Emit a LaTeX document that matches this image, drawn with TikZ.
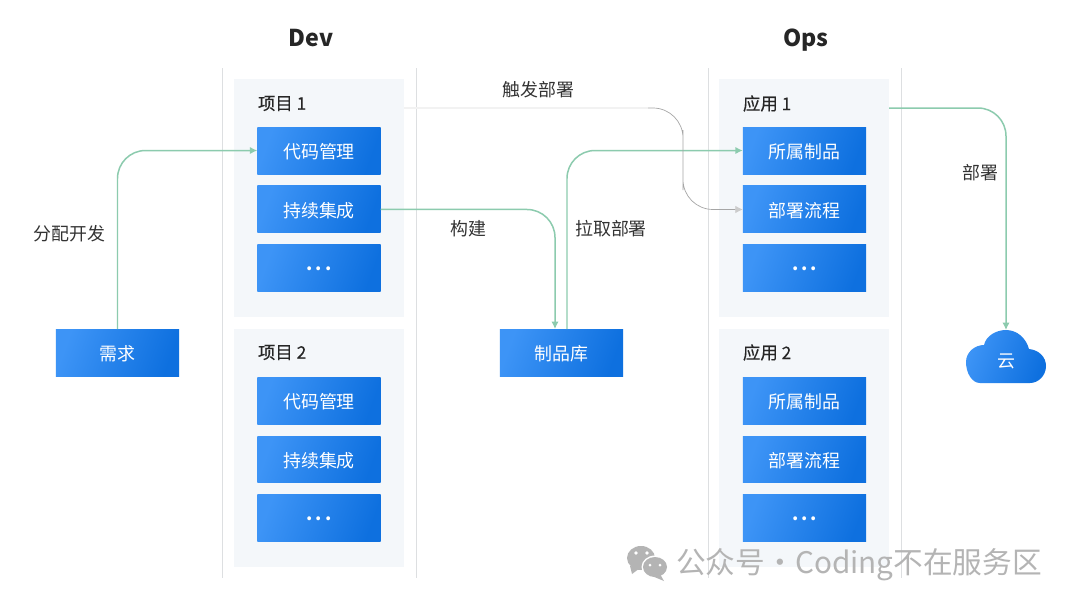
\documentclass[tikz,border=0pt]{standalone}
\usepackage{fontspec}
\setmainfont{Noto Sans CJK SC}
\newfontfamily\titlefont[FakeBold=0.35]{Noto Sans CJK SC}
\usetikzlibrary{positioning,arrows.meta}
\definecolor{boxleft}{HTML}{3D94F6}
\definecolor{boxright}{HTML}{0E70DF}
\definecolor{panelfill}{HTML}{F4F7FA}
\definecolor{flowgreen}{HTML}{8CCBAE}
\definecolor{sepline}{HTML}{DDDFE1}
\definecolor{marktext}{HTML}{B4B4B4}
\begin{document}
\begin{tikzpicture}[%
        x=0.02cm, y=-0.02cm,
        every node/.style={inner sep=0pt, outer sep=0pt, align=center},
        morenode/.style={minimum width=2.47cm, minimum height=0.94cm, left color=boxleft, right color=boxright, shading angle=70, text=white, font=\fontsize{10.2}{12}\selectfont\bfseries},
        boxnode/.style={morenode, font=\fontsize{10.2}{12}\selectfont, text height=10.1pt, text depth=1.2pt},
        panelnode/.style={minimum width=3.4cm, minimum height=4.76cm, fill=panelfill},
        titlenode/.style={text=black!85, font=\fontsize{9.9}{12}\titlefont},
        labelnode/.style={text=black!80, font=\fontsize{10.2}{12}\selectfont},
        headnode/.style={text=black!85, anchor=base, font=\fontsize{13.2}{16}\selectfont\bfseries},
        flow/.style={draw=flowgreen, line width=0.85pt, rounded corners=0.56cm, -{Latex[length=4.2pt, width=4.2pt]}},
        trigger/.style={draw=black!35, line width=0.4pt, rounded corners=0.6cm, -{Latex[length=4.2pt, width=4.2pt, color=black!20]}},
        sep/.style={draw=sepline, line width=0.55pt},
        node distance=0.24cm
      ]
      \useasboundingbox (0,0) rectangle (1080,606);
      \fill[white] (0,0) rectangle (1080,606);
      % separators
      \draw [sep] (222,68) -- (222,578);
      \draw [sep] (416,68) -- (416,578);
      \draw [sep] (708,68) -- (708,578);
      \draw [sep] (901,68) -- (901,578);
      \node [headnode] (dev) at (311,46) {Dev};
      \node [headnode] (ops) at (806,46) {Ops};
      % Dev
      \node [panelnode] (proj1) at (319,198) {};
      \node [panelnode] (proj2) [below=0.24cm of proj1] {};
      \node [titlenode, anchor=west] (proj1t) at (258,103.5) {项目 1};
      \node [titlenode, anchor=west] (proj2t) at (258,352.5) {项目 2};
      \node [boxnode] (code1) at (319,150.5) {代码管理};
      \node [boxnode] (ci1) [below=of code1] {持续集成};
      \node [morenode] (more1) [below=of ci1] {.\,.\,.};
      \node [boxnode] (code2) at (319,400.5) {代码管理};
      \node [boxnode] (ci2) [below=of code2] {持续集成};
      \node [morenode] (more2) [below=of ci2] {.\,.\,.};
      % Ops
      \node [panelnode] (app1) at (804,198) {};
      \node [panelnode] (app2) [below=0.24cm of app1] {};
      \node [titlenode, anchor=west] (app1t) at (743,103.5) {应用 1};
      \node [titlenode, anchor=west] (app2t) at (743,352.5) {应用 2};
      \node [boxnode] (part1) at (804.5,150.5) {所属制品};
      \node [boxnode] (proc1) [below=of part1] {部署流程};
      \node [morenode] (more3) [below=of proc1] {.\,.\,.};
      \node [boxnode] (part2) at (804.5,400.5) {所属制品};
      \node [boxnode] (proc2) [below=of part2] {部署流程};
      \node [morenode] (more4) [below=of proc2] {.\,.\,.};
      % outer nodes
      \node [boxnode] (req) at (117.5,352.5) {需求};
      \node [boxnode] (repo) at (561.5,352.5) {制品库};
      \shade [left color=boxleft, right color=boxright, shading angle=70]
        (980,383) .. controls (972,383) and (966,373) .. (966,362)
        .. controls (966,352) and (975,345) .. (984,345)
        .. controls (986,336) and (996,330) .. (1006,330)
        .. controls (1017,330) and (1026,338) .. (1029,349)
        .. controls (1039,350) and (1046,357) .. (1046,366)
        .. controls (1046,376) and (1038,383) .. (1030,383) -- cycle;
      \node [text=white, minimum height=1.24cm, font=\fontsize{10.2}{12}\selectfont] (cloud) at (1006,361) {云};
      % labels
      \node [labelnode] (l1) at (69.5,234) {分配开发};
      \node [labelnode] (l2) at (468,229) {构建};
      \node [labelnode] (l3) at (611,229) {拉取部署};
      \node [labelnode] (l4) at (538.5,90) {触发部署};
      \node [labelnode] (l5) at (980.5,173) {部署};
      % connectors
      \coordinate (trig0) at (404,108);
      \coordinate (trig1) at (648,108);
      \coordinate (trig2) at (683,160);
      \coordinate (out1) at (889,108);
      \draw [flow] (req.north) |- (code1.west);
      \draw [flow] (ci1.east) -| ([xshift=-0.13cm]repo.north);
      \draw [flow] ([xshift=0.11cm]repo.north) |- (part1.west);
      \draw [flow] (out1) -| (cloud.north);
      \draw [draw=black!5, line width=0.6pt] (trig0) -- (trig1);
      \draw [trigger] (trig1) -| (trig2) |- (proc1.west);
      % watermark
      \fill [marktext] (641,558) ellipse [x radius=14, y radius=12];
      \fill [marktext] (630,566) -- (632,574) -- (640,568) -- cycle;
      \fill [white] (655,567) ellipse [x radius=13.5, y radius=11.5];
      \fill [marktext] (655,567) ellipse [x radius=12, y radius=10];
      \fill [marktext] (660,574) -- (664,581) -- (652,576) -- cycle;
      \fill [white] (636,553) circle [radius=1.8] (647,553) circle [radius=1.8];
      \fill [white] (650,565) circle [radius=1.5] (660,565) circle [radius=1.5];
      \node [anchor=west, text=marktext, font=\fontsize{16.9}{20}\selectfont] (mark) at (676,565) {\spaceskip=0.1pt 公众号 · Coding不在服务区};
    \end{tikzpicture}
\end{document}
